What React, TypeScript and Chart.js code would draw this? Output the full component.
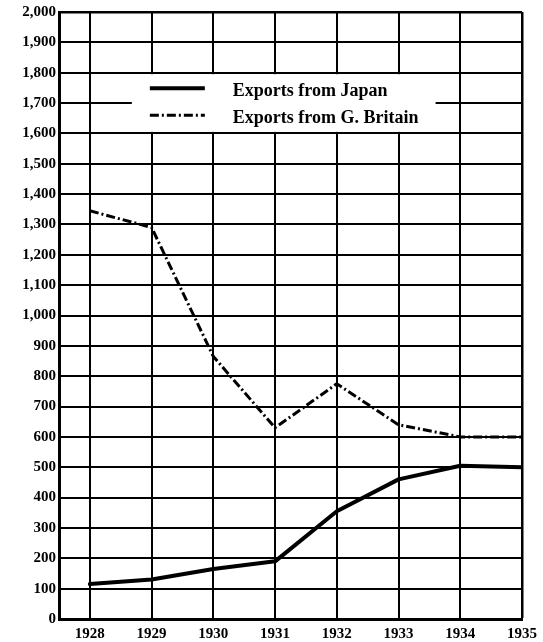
import React, { useEffect, useRef } from "react";
import { Chart, registerables } from "chart.js";

Chart.register(...registerables);

const years = [1928, 1929, 1930, 1931, 1932, 1933, 1934, 1935];
const japanExports = [115, 130, 165, 190, 355, 460, 505, 500];
const britainExports = [1345, 1290, 865, 630, 775, 640, 600, 600];
const seriesLabels = ["Exports from Japan", "Exports from G. Britain"];
const yMin = 0;
const yMax = 2000;
const yStep = 100;
const xMin = 1927.5;
const xMax = 1935;

const formatThousands = (v: number) =>
  v >= 1000 ? `${Math.floor(v / 1000)},${String(v % 1000).padStart(3, "0")}` : String(v);

const legendPlugin = {
  id: "boxLegend",
  beforeDatasetsDraw(chart: any) {
    const { ctx, scales } = chart;
    const x = scales.x;
    const y = scales.y;
    const l = x.getPixelForValue(1928.68);
    const r = x.getPixelForValue(1933.6);
    const t = y.getPixelForValue(1800) + 1.5;
    const b = y.getPixelForValue(1600) - 1.5;
    ctx.save();
    ctx.fillStyle = "#ffffff";
    ctx.fillRect(l, t, r - l, b - t);
    const rows = [
      { lineY: t + 14, textY: t + 17, width: 4, dash: [] as number[] },
      { lineY: t + 41, textY: t + 44, width: 3, dash: [9, 3, 2, 3] },
    ];
    rows.forEach((row, i) => {
      ctx.beginPath();
      ctx.strokeStyle = "#000";
      ctx.lineWidth = row.width;
      ctx.setLineDash(row.dash);
      ctx.moveTo(l + 18, row.lineY);
      ctx.lineTo(l + 73, row.lineY);
      ctx.stroke();
      ctx.setLineDash([]);
      ctx.fillStyle = "#000";
      ctx.font = "bold 18px 'Liberation Serif', serif";
      ctx.textBaseline = "middle";
      ctx.textAlign = "left";
      ctx.fillText(seriesLabels[i], l + 101, row.textY);
    });
    ctx.restore();
  },
};

export default function App() {
  const canvasRef = useRef<HTMLCanvasElement | null>(null);

  useEffect(() => {
    document.body.style.margin = "0";
    const canvas = canvasRef.current;
    if (!canvas) return;
    const tickFont = { family: "'Liberation Serif', serif", size: 15, weight: "bold" as const };
    const chart = new Chart(canvas, {
      type: "line",
      data: {
        datasets: [
          {
            label: seriesLabels[0],
            data: years.map((yr, i) => ({ x: yr, y: japanExports[i] })),
            borderColor: "#000",
            borderWidth: 4,
            pointRadius: 0,
            tension: 0,
            borderCapStyle: "round",
            borderJoinStyle: "round",
          },
          {
            label: seriesLabels[1],
            data: years.map((yr, i) => ({ x: yr, y: britainExports[i] })),
            borderColor: "#000",
            borderWidth: 3,
            borderDash: [9, 3, 2, 3],
            pointRadius: 0,
            tension: 0,
          },
        ],
      },
      options: {
        responsive: false,
        animation: false,
        maintainAspectRatio: false,
        layout: { padding: { top: 10, right: 21, left: 0, bottom: 0 } },
        plugins: {
          legend: { display: false },
          tooltip: { enabled: false },
          title: { display: false },
        },
        scales: {
          x: {
            type: "linear",
            min: xMin,
            max: xMax,
            afterBuildTicks: (scale: any) => {
              scale.ticks = years.map((v) => ({ value: v }));
            },
            afterFit: (scale: any) => {
              scale.height = 23;
            },
            grid: {
              color: "#000",
              lineWidth: (c: any) => (c.tick && c.tick.value === xMax ? 2.5 : 2),
              drawTicks: false,
            },
            border: { color: "#000", width: 3 },
            ticks: {
              color: "#000",
              font: tickFont,
              padding: 6,
              maxRotation: 0,
              autoSkip: false,
              callback: (v: any) => String(v),
            },
          },
          y: {
            type: "linear",
            min: yMin,
            max: yMax,
            afterFit: (scale: any) => {
              scale.width = 59;
            },
            grid: {
              color: "#000",
              lineWidth: (c: any) => (c.tick && c.tick.value === yMax ? 2.5 : 2),
              drawTicks: false,
            },
            border: { color: "#000", width: 3 },
            ticks: {
              color: "#000",
              font: tickFont,
              padding: 3,
              stepSize: yStep,
              autoSkip: false,
              callback: (v: any) => formatThousands(Number(v)),
            },
          },
        },
      },
      plugins: [legendPlugin],
    });
    return () => chart.destroy();
  }, []);

  return (
    <div style={{ width: 543, height: 642, background: "#fff" }}>
      <canvas ref={canvasRef} width={543} height={642} style={{ display: "block", width: 543, height: 642 }} />
    </div>
  );
}
